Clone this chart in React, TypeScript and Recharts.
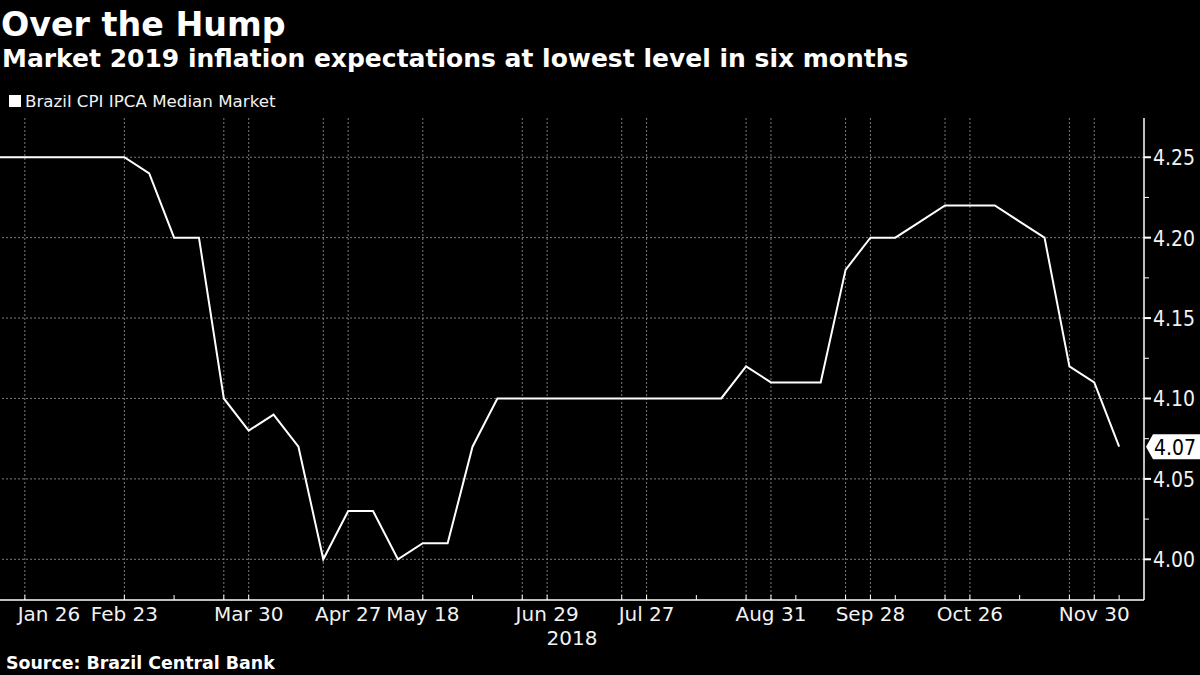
import React from "react";
import { LineChart, Line, XAxis, YAxis, ReferenceLine, ReferenceDot } from "recharts";

const dates = [
  "Jan 19", "Jan 26", "Feb 2", "Feb 9", "Feb 16", "Feb 23", "Mar 2", "Mar 9", "Mar 16", "Mar 23",
  "Mar 30", "Apr 6", "Apr 13", "Apr 20", "Apr 27", "May 4", "May 11", "May 18", "May 25", "Jun 1",
  "Jun 8", "Jun 15", "Jun 29", "Jul 6", "Jul 13", "Jul 20", "Jul 27", "Aug 3", "Aug 10", "Aug 17",
  "Aug 24", "Aug 31", "Sep 7", "Sep 14", "Sep 21", "Sep 28", "Oct 5", "Oct 12", "Oct 19", "Oct 26",
  "Nov 2", "Nov 9", "Nov 16", "Nov 23", "Nov 30", "Dec 7",
];

const values = [
  4.25, 4.25, 4.25, 4.25, 4.25, 4.25, 4.24, 4.2, 4.2, 4.1,
  4.08, 4.09, 4.07, 4.0, 4.03, 4.03, 4.0, 4.01, 4.01, 4.07,
  4.1, 4.1, 4.1, 4.1, 4.1, 4.1, 4.1, 4.1, 4.1, 4.1,
  4.12, 4.11, 4.11, 4.11, 4.18, 4.2, 4.2, 4.21, 4.22, 4.22,
  4.22, 4.21, 4.2, 4.12, 4.11, 4.07,
];

const tickMarkIdx = [1, 5, 7, 9, 10, 13, 14, 17, 19, 21, 22, 25, 26, 28, 30, 31, 32, 34, 35, 36, 38, 39, 41, 43, 44, 45];
const labelIdx = [1, 5, 10, 14, 17, 22, 26, 31, 35, 39, 44];
const gridIdx = [1, 5, 9, 10, 13, 14, 17, 21, 22, 25, 26, 30, 31, 34, 35, 38, 39, 43, 44];
const yearIdx = [23];
const yearLabels = ["2018"];

const yMajor = [4.0, 4.05, 4.1, 4.15, 4.2, 4.25];
const yMinor = [4.025, 4.075, 4.125, 4.175, 4.225];

const seriesName = "Brazil CPI IPCA Median Market";
const title = "Over the Hump";
const subtitle = "Market 2019 inflation expectations at lowest level in six months";
const source = "Source:  Brazil Central Bank";

const data = dates.map((d, i) => ({ i, date: d, value: values[i] }));
const xTicks = Array.from(new Set([...tickMarkIdx, ...yearIdx])).sort((a, b) => a - b);
const yTicks = [...yMajor, ...yMinor].sort((a, b) => a - b);

const FONT = "'DejaVu Sans', sans-serif";
const COND = "'DejaVu Sans Condensed', 'DejaVu Sans', sans-serif";
const TXT = "#f2f2f2";
const GRID = "#7a7a7a";

function XTick(props: any) {
  const { x, y, payload } = props;
  const v = payload.value as number;
  const hasMark = tickMarkIdx.includes(v);
  const hasLabel = labelIdx.includes(v);
  const yi = yearIdx.indexOf(v);
  return (
    <g>
      {hasMark && <line x1={x} x2={x} y1={y} y2={y - 5} stroke="#fff" strokeWidth={1} />}
      {hasLabel && (
        <text x={Math.max(x, 49)} y={y + 21} textAnchor="middle" fill={TXT} fontFamily={FONT} fontSize={20}>
          {dates[v]}
        </text>
      )}
      {yi >= 0 && (
        <text x={x} y={y + 45} textAnchor="middle" fill={TXT} fontFamily={FONT} fontSize={20}>
          {yearLabels[yi]}
        </text>
      )}
    </g>
  );
}

function YTick(props: any) {
  const { x, y, payload } = props;
  const v = payload.value as number;
  const major = yMajor.some((m) => Math.abs(m - v) < 1e-6);
  return (
    <g>
      <line x1={x} x2={x + (major ? 7 : 5)} y1={y} y2={y} stroke="#fff" strokeWidth={major ? 2 : 1} />
      {major && (
        <text x={x + 9} y={y + 8} textAnchor="start" fill={TXT} fontFamily={COND} fontSize={21}>
          {v.toFixed(2)}
        </text>
      )}
    </g>
  );
}

function Callout(props: any) {
  const { cx, cy } = props;
  const v = values[values.length - 1];
  const x0 = cx + 2;
  const pts = [
    [x0, cy],
    [x0 + 7, cy - 12.5],
    [x0 + 60, cy - 12.5],
    [x0 + 60, cy + 12.5],
    [x0 + 7, cy + 12.5],
  ]
    .map((p) => p.join(","))
    .join(" ");
  return (
    <g>
      <polygon points={pts} fill="#fff" />
      <text x={x0 + 8} y={cy + 8} fill="#000" fontFamily={COND} fontSize={21}>
        {v.toFixed(2)}
      </text>
    </g>
  );
}

export default function App() {
  return (
    <div style={{ position: "relative", width: 1200, height: 675, background: "#000", overflow: "hidden" }}>
      <style>{"body{margin:0;background:#000}"}</style>
      <svg width={1200} height={675} style={{ position: "absolute", left: 0, top: 0, pointerEvents: "none" }}>
        <text x={1} y={36} fill="#fff" fontFamily={FONT} fontWeight="bold" fontSize={33.3}>
          {title}
        </text>
        <text x={2} y={67} fill="#fff" fontFamily={FONT} fontWeight="bold" fontSize={25}>
          {subtitle}
        </text>
        <rect x={9} y={95} width={12} height={12} fill="#fff" />
        <text x={25} y={107} fill={TXT} fontFamily={FONT} fontSize={16.7}>
          {seriesName}
        </text>
        <text x={6} y={669} fill="#fff" fontFamily={FONT} fontWeight="bold" fontSize={17.4}>
          {source}
        </text>
      </svg>
      <div style={{ position: "absolute", left: 0, top: 0 }}>
        <LineChart width={1200} height={675} data={data} margin={{ top: 118, right: 0, bottom: 25, left: 0 }}>
          {yMajor.map((v) => (
            <ReferenceLine key={"h" + v} y={v} stroke={GRID} strokeDasharray="2 2" strokeWidth={1} />
          ))}
          {gridIdx.map((i) => (
            <ReferenceLine key={"v" + i} x={i} stroke={GRID} strokeDasharray="2 2" strokeWidth={1} />
          ))}
          <XAxis
            dataKey="i"
            type="number"
            domain={[0, 46]}
            ticks={xTicks}
            interval={0}
            allowDataOverflow
            height={50}
            tickSize={0}
            tickMargin={0}
            tickLine={false}
            axisLine={{ stroke: "#fff", strokeWidth: 1.5 }}
            tick={<XTick />}
          />
          <YAxis
            orientation="right"
            type="number"
            domain={[3.9747, 4.2744]}
            ticks={yTicks}
            interval={0}
            allowDataOverflow
            width={56}
            tickSize={0}
            tickMargin={0}
            tickLine={false}
            axisLine={{ stroke: "#fff", strokeWidth: 1.5 }}
            tick={<YTick />}
          />
          <Line
            type="linear"
            dataKey="value"
            stroke="#fff"
            strokeWidth={2}
            dot={false}
            isAnimationActive={false}
          />
          <ReferenceDot
            x={46}
            y={values[values.length - 1]}
            r={0}
            ifOverflow="visible"
            shape={(p: any) => <Callout {...p} />}
          />
        </LineChart>
      </div>
    </div>
  );
}
